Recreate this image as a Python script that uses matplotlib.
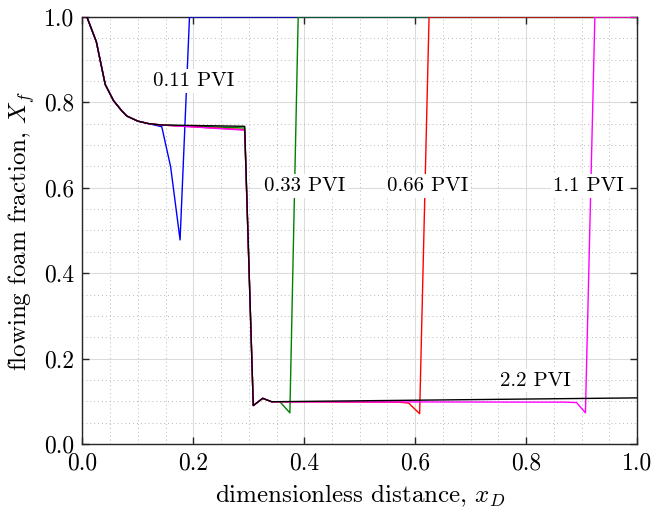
import matplotlib
matplotlib.use('Agg')
from matplotlib import pyplot as plt
from matplotlib.ticker import MultipleLocator

plt.rcParams['font.family'] = 'serif'
plt.rcParams['font.serif'] = ['cmr10']
plt.rcParams['mathtext.fontset'] = 'cm'
plt.rcParams['axes.formatter.use_mathtext'] = True

# Profils (sommets des segments)
x_upper = [0.0, 0.008, 0.025, 0.041, 0.056, 0.071, 0.080, 0.100, 0.120, 0.143]
y_upper = [1.0, 1.0, 0.942, 0.842, 0.804, 0.780, 0.768, 0.756, 0.750, 0.747]

x_low = [0.308, 0.325, 0.341]
y_low = [0.090, 0.107, 0.099]

# 0.11 PVI
x_011 = x_upper + [0.159, 0.176, 0.193, 1.0]
y_011 = y_upper[:-1] + [0.743, 0.649, 0.478, 1.0, 1.0]

# 0.33 PVI
x_033 = x_upper + [0.2925] + x_low + [0.356, 0.374, 0.389, 1.0]
y_033 = y_upper + [0.740] + y_low + [0.099, 0.073, 1.0, 1.0]

# 0.66 PVI
x_066 = x_upper + [0.2925] + x_low + [0.570, 0.588, 0.608, 0.625, 1.0]
y_066 = y_upper + [0.736] + y_low + [0.098, 0.096, 0.071, 1.0, 1.0]

# 1.1 PVI
x_110 = x_upper + [0.2925] + x_low + [0.870, 0.891, 0.907, 0.924, 1.0]
y_110 = y_upper + [0.735] + y_low + [0.098, 0.097, 0.073, 1.0, 1.0]

# 2.2 PVI
x_220 = x_upper + [0.2925] + x_low + [1.0]
y_220 = y_upper + [0.744] + y_low + [0.108]

series = [
    (x_011, y_011, '#0000ff'),
    (x_033, y_033, '#008000'),
    (x_066, y_066, '#ff0000'),
    (x_110, y_110, '#ff00ff'),
    (x_220, y_220, '#000000'),
]

labels = ['0.11 PVI', '0.33 PVI', '0.66 PVI', '1.1 PVI', '2.2 PVI']
label_pos = [(0.200, 0.850), (0.401, 0.604), (0.623, 0.604), (0.913, 0.604), (0.816, 0.148)]

fig = plt.figure(figsize=(6.53, 5.13), dpi=100)
ax = fig.add_axes([0.1263, 0.1345, 0.8492, 0.8324])

for xs, ys, c in series:
    ax.plot(xs, ys, color=c, linewidth=1.0, zorder=3)

for txt, (tx, ty) in zip(labels, label_pos):
    ax.text(tx, ty, txt, fontsize=15, ha='center', va='center', zorder=5,
            bbox=dict(facecolor='white', edgecolor='none', pad=2))

ax.set_xlim(0, 1)
ax.set_ylim(0, 1)
ax.xaxis.set_major_locator(MultipleLocator(0.2))
ax.yaxis.set_major_locator(MultipleLocator(0.2))
ax.xaxis.set_minor_locator(MultipleLocator(0.05))
ax.yaxis.set_minor_locator(MultipleLocator(0.05))
ax.xaxis.set_major_formatter(plt.FormatStrFormatter('%.1f'))
ax.yaxis.set_major_formatter(plt.FormatStrFormatter('%.1f'))

ax.grid(which='major', color='#dcdcdc', linewidth=0.8, linestyle='-')
ax.grid(which='minor', color='#b8b8b8', linewidth=0.7, linestyle=(0, (1, 3)))
ax.set_axisbelow(True)

ax.tick_params(which='major', direction='in', length=5, width=1.0, color='#262626',
               top=True, right=True, labelsize=17, pad=6)
ax.tick_params(which='minor', length=0)
for s in ax.spines.values():
    s.set_color('#262626')
    s.set_linewidth(1.0)

ax.set_xlabel('dimensionless distance, $x_D$', fontsize=18, labelpad=6)
ax.set_ylabel('flowing foam fraction, $X_f$', fontsize=18, labelpad=5)

fig.savefig('out.png', dpi=100)
